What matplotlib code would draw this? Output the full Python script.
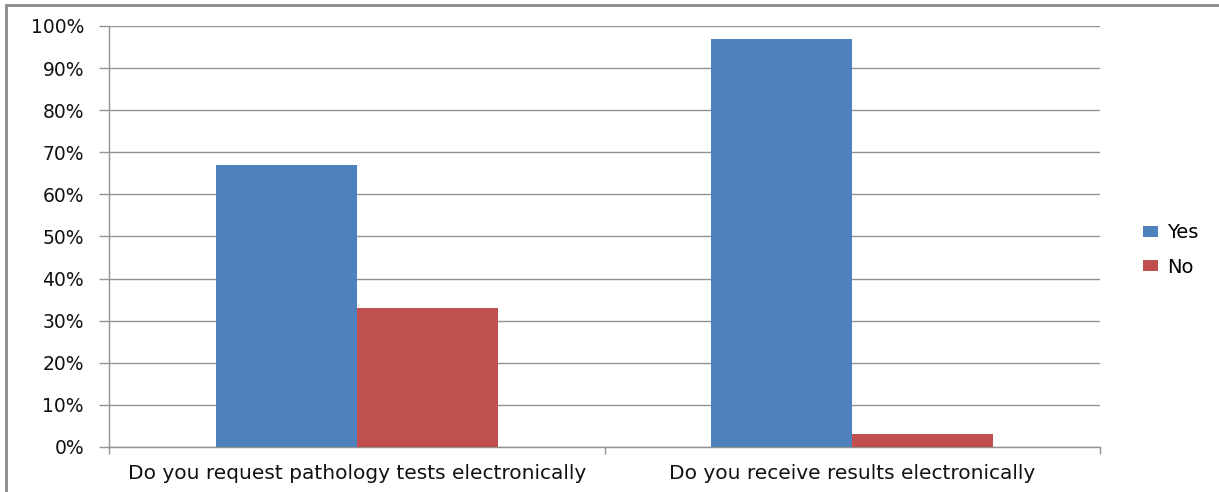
import matplotlib
matplotlib.use("Agg")
import matplotlib.pyplot as plt
from matplotlib.patches import Rectangle
from matplotlib.ticker import MultipleLocator, FuncFormatter

categories = ["Do you request pathology tests electronically",
              "Do you receive results electronically"]
yes_values = [67, 97]
no_values = [33, 3]
series_names = ["Yes", "No"]

blue = "#4F81BD"
red = "#C0504D"
grid_grey = "#939393"
text_color = "#111111"

fig = plt.figure(figsize=(12.19, 4.92), dpi=100)
ax = fig.add_axes([0.0894, 0.0915, 0.8130, 0.8557])

x = list(range(len(categories)))
w = 0.285
ax.bar([i - w / 2 for i in x], yes_values, width=w, color=blue, label=series_names[0], zorder=3)
ax.bar([i + w / 2 for i in x], no_values, width=w, color=red, label=series_names[1], zorder=3)

ax.set_xlim(-0.5, len(categories) - 0.5)
ax.set_ylim(0, 100)
ax.yaxis.set_major_locator(MultipleLocator(10))
ax.yaxis.set_major_formatter(FuncFormatter(lambda v, p: f"{int(v)}%"))
ax.grid(axis="y", color=grid_grey, linewidth=1.0, zorder=0)

for s in ["top", "right"]:
    ax.spines[s].set_visible(False)
for s in ["left", "bottom"]:
    ax.spines[s].set_color(grid_grey)
    ax.spines[s].set_linewidth(1.0)

ax.set_xticks(x)
ax.set_xticklabels(categories)
ax.tick_params(axis="x", length=0, pad=12, labelsize=14.5, labelcolor=text_color)
ax.set_xticks([-0.5, 0.5, 1.5], minor=True)
ax.tick_params(axis="x", which="minor", length=5, color=grid_grey, width=1.0)
ax.tick_params(axis="y", length=7, color=grid_grey, width=1.0, pad=11,
               labelsize=13.5, labelcolor=text_color)

ax.legend(loc="center left", bbox_to_anchor=(1.043, 0.468), frameon=False,
          borderaxespad=0, borderpad=0,
          prop={"size": 14}, handlelength=0.8, handleheight=0.48,
          labelspacing=0.8, handletextpad=0.45)

# outer chart frame
fig.patches.append(Rectangle((6 / 1219, -0.1), 1.2, 1 - 5 / 492 + 0.1,
                             transform=fig.transFigure, fill=False,
                             edgecolor="#8A8A8A", linewidth=2.0))

fig.savefig("out.png", dpi=100)
